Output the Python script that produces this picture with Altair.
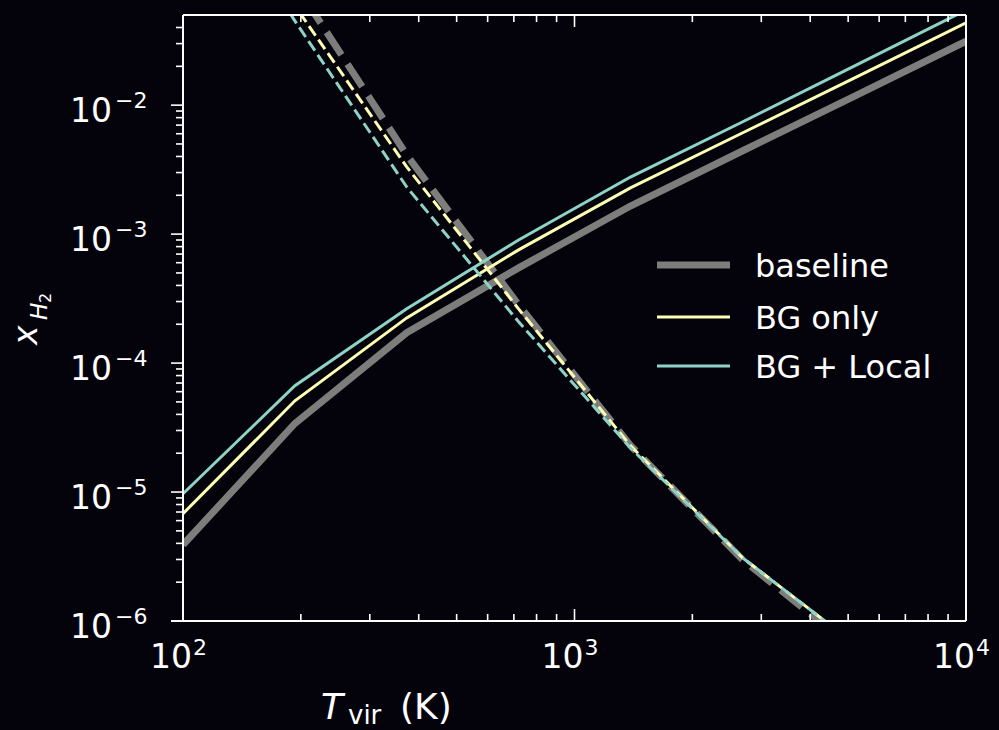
import altair as alt
import pandas as pd

# ---------------- data ----------------
T_GRID = [100, 193.1, 372.8, 719.7, 1389.5, 2682.7, 5179.5, 10000]
solid_baseline = [3.9e-6, 3.4e-5, 1.72e-4, 5.47e-4, 1.65e-3, 4.41e-3, 1.17e-2, 3.13e-2]
solid_bg_only = [6.8e-6, 5.1e-5, 2.24e-4, 7.55e-4, 2.28e-3, 6.08e-3, 1.62e-2, 4.34e-2]
solid_bg_local = [9.7e-6, 6.67e-5, 2.64e-4, 9.0e-4, 2.77e-3, 7.4e-3, 2.01e-2, 5.46e-2]

T_DASH = [100, 193.1, 372.8, 719.7, 1389.5, 2682.7, 5179.5]
dash_baseline = [2.0, 0.088, 4.1e-3, 2.83e-4, 2.3e-5, 3.0e-6, 6.1e-7]
dash_bg_only = [1.3, 0.059, 3.32e-3, 2.63e-4, 2.29e-5, 3.1e-6, 6.7e-7]
dash_bg_local = [1.0, 0.045, 2.32e-3, 2.09e-4, 2.2e-5, 3.1e-6, 6.7e-7]

SERIES = ["baseline", "BG only", "BG + Local"]
COLORS = ["#7d7d7b", "#feffb3", "#8dd3c7"]
WIDTHS = [7, 3, 3]
DASHES = [[27, 11], [11.5, 5], [11.5, 5]]

X_MAJOR = [100, 1000, 10000]
X_EXP = ["2", "3", "4"]
X_MINOR = [200, 300, 400, 500, 600, 700, 800, 900,
           2000, 3000, 4000, 5000, 6000, 7000, 8000, 9000]
Y_MAJOR = [1e-6, 1e-5, 1e-4, 1e-3, 1e-2]
Y_EXP = ["\u22126", "\u22125", "\u22124", "\u22123", "\u22122"]
Y_MINOR = [2e-6, 3e-6, 4e-6, 5e-6, 6e-6, 7e-6, 8e-6, 9e-6,
           2e-5, 3e-5, 4e-5, 5e-5, 6e-5, 7e-5, 8e-5, 9e-5,
           2e-4, 3e-4, 4e-4, 5e-4, 6e-4, 7e-4, 8e-4, 9e-4,
           2e-3, 3e-3, 4e-3, 5e-3, 6e-3, 7e-3, 8e-3, 9e-3,
           2e-2, 3e-2, 4e-2]

# ---------------- layout ----------------
W, H = 783, 606
BG = "#04030c"
FONT = "DejaVu Sans"
WHITE = "#ffffff"

xs = alt.Scale(type="log", domain=[100, 10000], nice=False)
ys = alt.Scale(type="log", domain=[1e-6, 0.05], nice=False)

layers = []

series_solid = [solid_baseline, solid_bg_only, solid_bg_local]
series_dash = [dash_baseline, dash_bg_only, dash_bg_local]
for i in range(3):
    for kind in ("solid", "dash"):
        if kind == "solid":
            df = pd.DataFrame({"T": T_GRID, "v": series_solid[i]})
            mk = dict(color=COLORS[i], strokeWidth=WIDTHS[i], clip=True)
        else:
            df = pd.DataFrame({"T": T_DASH, "v": series_dash[i]})
            mk = dict(color=COLORS[i], strokeWidth=WIDTHS[i], strokeDash=DASHES[i], clip=True)
        layers.append(
            alt.Chart(df).mark_line(**mk).encode(
                x=alt.X("T:Q", scale=xs, axis=None),
                y=alt.Y("v:Q", scale=ys, axis=None),
                order="T:Q",
            )
        )

one = pd.DataFrame({"a": [0]})
# spines
spine = dict(color=WHITE, strokeWidth=2)
layers.append(alt.Chart(one).mark_rule(**spine).encode(x=alt.value(0), y=alt.value(0), y2=alt.value(H)))
layers.append(alt.Chart(one).mark_rule(**spine).encode(x=alt.value(W), y=alt.value(0), y2=alt.value(H)))
layers.append(alt.Chart(one).mark_rule(**spine).encode(x=alt.value(0), x2=alt.value(W), y=alt.value(0)))
layers.append(alt.Chart(one).mark_rule(**spine).encode(x=alt.value(-12), x2=alt.value(W), y=alt.value(H)))

# x ticks (inward, bottom & top)
xmaj = pd.DataFrame({"T": X_MAJOR, "e": X_EXP})
xmin = pd.DataFrame({"T": X_MINOR})
tk = dict(color=WHITE, strokeWidth=1.6)
for d, ln in ((xmaj, 12), (xmin, 7)):
    layers.append(alt.Chart(d).mark_rule(**tk).encode(
        x=alt.X("T:Q", scale=xs, axis=None), y=alt.value(H), y2=alt.value(H - ln)))
    layers.append(alt.Chart(d).mark_rule(**tk).encode(
        x=alt.X("T:Q", scale=xs, axis=None), y=alt.value(0), y2=alt.value(ln)))

# y ticks (outward, left)
ymaj = pd.DataFrame({"v": Y_MAJOR, "e": Y_EXP})
ymin = pd.DataFrame({"v": Y_MINOR})
for d, ln in ((ymaj, 12), (ymin, 7)):
    layers.append(alt.Chart(d).mark_rule(**tk).encode(
        y=alt.Y("v:Q", scale=ys, axis=None), x=alt.value(-ln), x2=alt.value(0)))

# tick labels
xmaj["b"] = "10"
ymaj["b"] = "10"
layers.append(alt.Chart(xmaj).mark_text(align="right", baseline="alphabetic", dx=9, fontSize=33,
                                        font=FONT, color=WHITE).encode(
    x=alt.X("T:Q", scale=xs, axis=None), y=alt.value(653), text="b:N"))
layers.append(alt.Chart(xmaj).mark_text(align="left", baseline="alphabetic", dx=10, fontSize=22,
                                        font=FONT, color=WHITE).encode(
    x=alt.X("T:Q", scale=xs, axis=None), y=alt.value(640), text="e:N"))
layers.append(alt.Chart(ymaj).mark_text(align="right", baseline="alphabetic", dy=17, fontSize=33,
                                        font=FONT, color=WHITE).encode(
    y=alt.Y("v:Q", scale=ys, axis=None), x=alt.value(-71), text="b:N"))
layers.append(alt.Chart(ymaj).mark_text(align="left", baseline="alphabetic", dy=3, fontSize=22,
                                        font=FONT, color=WHITE).encode(
    y=alt.Y("v:Q", scale=ys, axis=None), x=alt.value(-68), text="e:N"))

# axis titles
def txt(s, x, y, size, style="normal", angle=0, align="left"):
    return alt.Chart(pd.DataFrame({"t": [s]})).mark_text(
        align=align, baseline="alphabetic", fontSize=size, fontStyle=style,
        font=FONT, color=WHITE, angle=angle).encode(
        x=alt.value(x), y=alt.value(y), text="t:N")

layers.append(txt("T", 321 - 183, 719 - 15, 36, "italic"))
layers.append(txt("vir", 348 - 183, 724 - 15, 26))
layers.append(txt("(K)", 400 - 183, 719 - 15, 36))

layers.append(txt("x", 37 - 183, 345 - 15, 33, "italic", angle=270))
layers.append(txt("H", 47 - 183, 320 - 15, 23, "italic", angle=270))
layers.append(txt("2", 51 - 183, 303 - 15, 16, angle=270))

# legend
LEG_Y = [250, 302, 351]
for i in range(3):
    layers.append(alt.Chart(one).mark_rule(color=COLORS[i], strokeWidth=WIDTHS[i]).encode(
        x=alt.value(474), x2=alt.value(547), y=alt.value(LEG_Y[i])))
    layers.append(txt(SERIES[i], 572, LEG_Y[i] + 12, 32))

chart = alt.layer(*layers).properties(
    width=W, height=H, background=BG,
    padding={"left": 183, "top": 15, "right": 33, "bottom": 109},
    autosize=alt.AutoSizeParams(type="none"),
).configure_view(strokeWidth=0)

chart.save("out.html", embed_options={"renderer": "svg", "actions": False})
